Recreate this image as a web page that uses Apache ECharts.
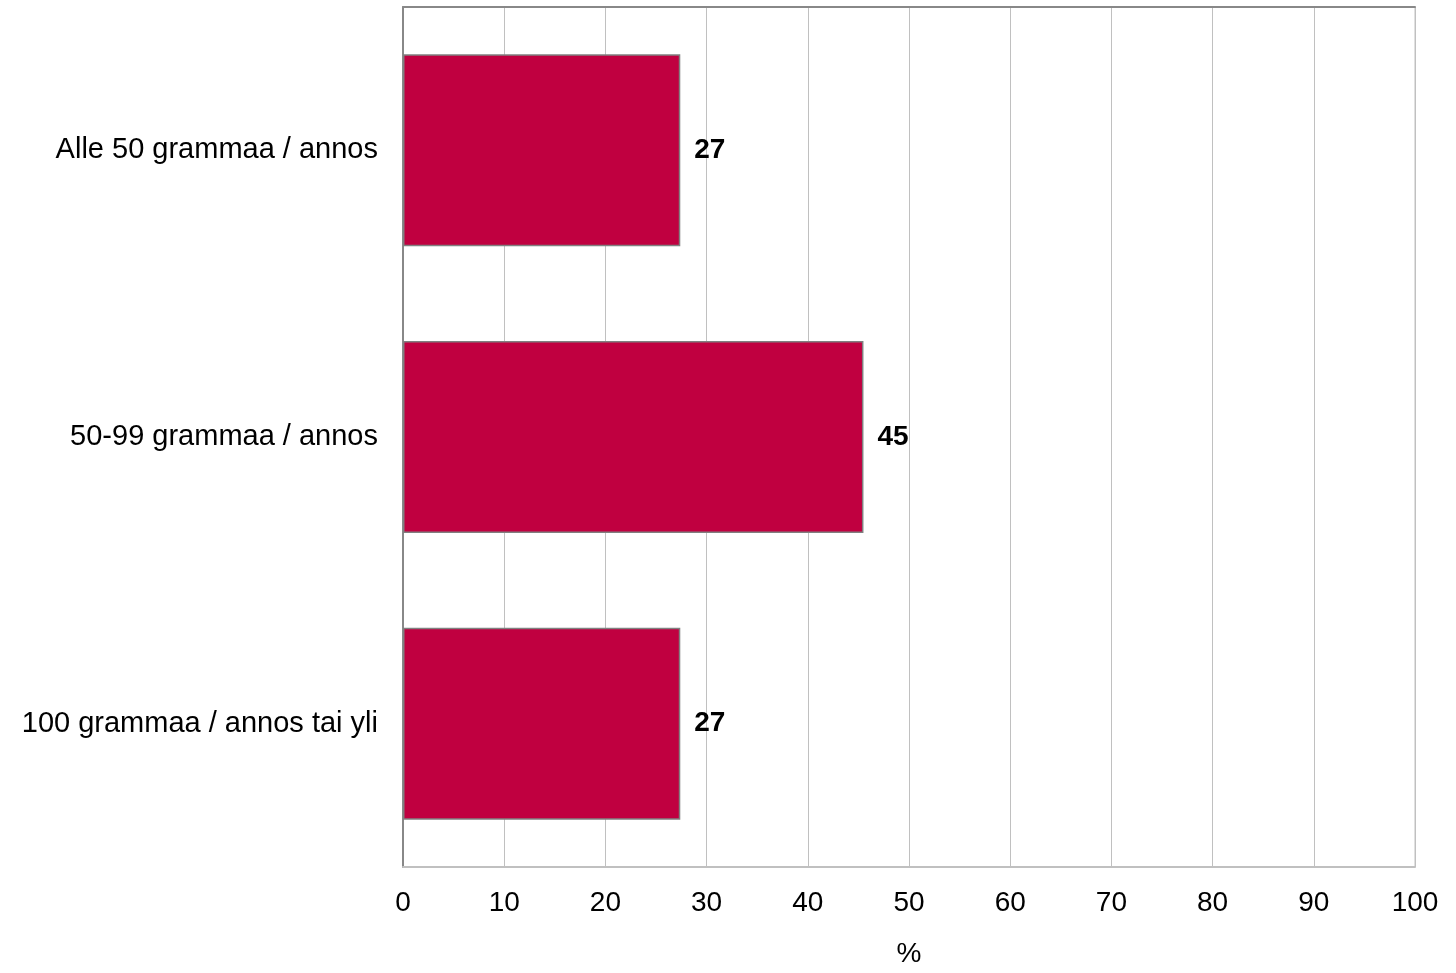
<!DOCTYPE html>
<html>
<head>
<meta charset="utf-8">
<script src="https://cdn.jsdelivr.net/npm/echarts@6/dist/echarts.min.js"></script>
<style>html,body{margin:0;padding:0;background:#fff}#c{width:1456px;height:973px}</style>
</head>
<body>
<div id="c"></div>
<script>
const categories = ["Alle 50 grammaa / annos", "50-99 grammaa / annos", "100 grammaa / annos tai yli"];
const values = [27.4, 45.5, 27.4];
const labels = ["27", "45", "27"];
const xTicks = [0, 10, 20, 30, 40, 50, 60, 70, 80, 90, 100];

const chart = echarts.init(document.getElementById('c'), null, {renderer: 'canvas'});
const font = 'Liberation Sans, Arial, sans-serif';
chart.setOption({
  animation: false,
  grid: {left: 403, right: 41, top: 7, bottom: 100, show: true, borderColor: '#c0c0c0', borderWidth: 1},
  xAxis: [{
    type: 'value', min: 0, max: 100, interval: 10,
    name: '%', nameLocation: 'middle', nameGap: 73,
    nameTextStyle: {fontFamily: font, fontSize: 28, color: '#000'},
    axisLine: {show: true, lineStyle: {color: '#c0c0c0', width: 2}},
    axisTick: {show: false},
    axisLabel: {fontFamily: font, fontSize: 28, color: '#000', margin: 22,
      formatter: v => xTicks.includes(v) ? String(v) : ''},
    splitLine: {show: true, lineStyle: {color: '#c0c0c0', width: 1}}
  }, {
    type: 'value', min: 0, max: 100, position: 'top',
    axisLine: {show: true, lineStyle: {color: '#888888', width: 2}},
    axisTick: {show: false}, axisLabel: {show: false}, splitLine: {show: false}
  }],
  yAxis: {
    type: 'category', data: categories, inverse: true,
    axisLine: {show: true, lineStyle: {color: '#888888', width: 2}},
    axisTick: {show: false},
    axisLabel: {fontFamily: font, fontSize: 29, color: '#000', margin: 25, padding: [4, 0, 0, 0]},
    splitLine: {show: false}
  },
  series: [{
    type: 'bar', xAxisIndex: 0,
    data: values,
    barCategoryGap: '33%',
    itemStyle: {color: '#c00040', borderColor: '#808080', borderWidth: 1.5},
    label: {show: true, position: 'right', distance: 14, padding: [2, 0, 0, 0],
      formatter: p => labels[p.dataIndex],
      fontFamily: font, fontSize: 28, fontWeight: 'bold', color: '#000'}
  }]
});
</script>
</body>
</html>
